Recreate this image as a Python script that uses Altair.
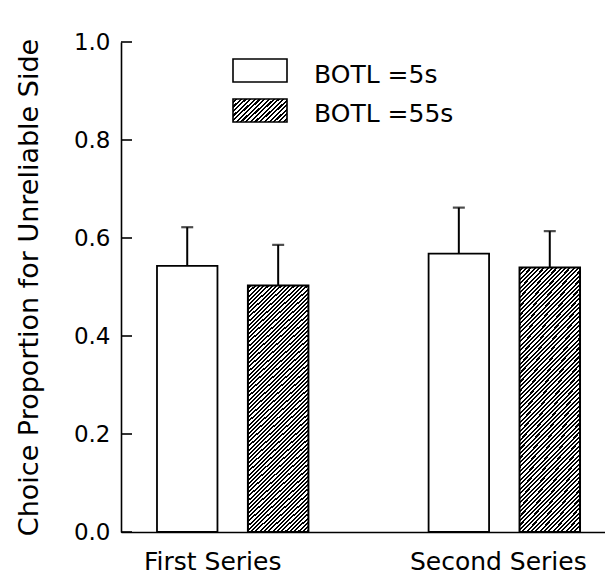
import altair as alt
import pandas as pd

# ---- data ----
categories = ["First Series", "Second Series"]
series = ["BOTL =5s", "BOTL =55s"]
means_5s = [0.543, 0.568]
means_55s = [0.503, 0.540]
errors_5s = [0.079, 0.094]
errors_55s = [0.083, 0.074]
y_ticks = [0.0, 0.2, 0.4, 0.6, 0.8, 1.0]

rows = []
for i, c in enumerate(categories):
    rows.append({"category": c, "series": series[0], "mean": means_5s[i], "err": errors_5s[i]})
    rows.append({"category": c, "series": series[1], "mean": means_55s[i], "err": errors_55s[i]})
df = pd.DataFrame(rows)

FONT = "DejaVu Sans"


def hatch(ax, ay, n, duty=0.52):
    """Diagonal hatch (///) emulated with a hard-stop linear gradient."""
    stops = []
    for k in range(n):
        a = round(k / n, 5)
        b = round((k + duty) / n, 5)
        c = round((k + 1) / n, 5)
        stops += [
            {"offset": a, "color": "white"},
            {"offset": b, "color": "white"},
            {"offset": b, "color": "black"},
            {"offset": c, "color": "black"},
        ]
    return {"gradient": "linear", "x1": 0, "y1": 0, "x2": ax, "y2": ay, "stops": stops}


bar_hatch = hatch(0.283, 1.2, 75)
legend_hatch = hatch(1.2375, 0.55, 17)

xscale = alt.Scale(domain=categories, range=[0, 495], paddingInner=0.4425, paddingOuter=0.1325)
yscale = alt.Scale(domain=[0, 1])

xaxis = alt.Axis(
    ticks=False, grid=False, domain=True, domainColor="black", domainWidth=1.6,
    labelFont=FONT, labelFontSize=25, labelColor="black", labelPadding=17,
    labelOffset=alt.ExprRef(expr="datum.value == 'First Series' ? -20 : -6"),
    labelAngle=0, title=None,
)
YTITLE = "Choice Proportion for Unreliable Side"
yaxis = alt.Axis(
    values=y_ticks, format=".1f", ticks=False, tickSize=0, grid=False, domain=True,
    domainColor="black", domainWidth=1.6,
    labelFont=FONT, labelFontSize=23, labelColor="black", labelPadding=11,
    title=YTITLE,
    titleFont=FONT, titleFontSize=27, titleFontWeight="normal", titleColor="black",
    titleAngle=-90, titleX=-84, titleY=245, titleAlign="center", titleBaseline="alphabetic",
)


def yenc(field):
    return alt.Y(field, scale=yscale, axis=yaxis, title=YTITLE)


base = alt.Chart(df).transform_calculate(upper="datum.mean + datum.err").encode(
    x=alt.X("category:N", scale=xscale, axis=xaxis, title=None),
    xOffset=alt.XOffset("series:N", scale=alt.Scale(domain=series, paddingInner=0.335, paddingOuter=0)),
)

bars_white = base.transform_filter(alt.datum.series == series[0]).mark_bar(
    fill="white", stroke="black", strokeWidth=1.8
).encode(y=yenc("mean:Q"))

bars_hatch = base.transform_filter(alt.datum.series == series[1]).mark_bar(
    fill=bar_hatch, stroke="black", strokeWidth=2
).encode(y=yenc("mean:Q"))

err_rule = base.mark_rule(color="black", strokeWidth=2).encode(
    y=yenc("mean:Q"), y2="upper:Q"
)
err_cap = base.mark_tick(color="black", size=12, thickness=2.2).encode(y=yenc("upper:Q"))

ytick_marks = alt.Chart(pd.DataFrame({"t": y_ticks})).mark_rule(
    color="black", strokeWidth=1.6
).encode(y=yenc("t:Q"), x=alt.value(0), x2=alt.value(11))

leg_df = pd.DataFrame({"label": series})
leg_white = alt.Chart(leg_df).transform_filter(alt.datum.label == series[0]).mark_rect(
    fill="white", stroke="black", strokeWidth=1.6
).encode(x=alt.value(112), x2=alt.value(166), y=alt.value(17), y2=alt.value(40))
leg_hatch = alt.Chart(leg_df).transform_filter(alt.datum.label == series[1]).mark_rect(
    fill=legend_hatch, stroke="black", strokeWidth=1.6
).encode(x=alt.value(112), x2=alt.value(166), y=alt.value(57), y2=alt.value(80))
leg_text1 = alt.Chart(leg_df).transform_filter(alt.datum.label == series[0]).mark_text(
    align="left", baseline="alphabetic", font=FONT, fontSize=25, color="black"
).encode(text="label:N", x=alt.value(193), y=alt.value(40.5))
leg_text2 = alt.Chart(leg_df).transform_filter(alt.datum.label == series[1]).mark_text(
    align="left", baseline="alphabetic", font=FONT, fontSize=25, color="black"
).encode(text="label:N", x=alt.value(193), y=alt.value(79.5))

chart = alt.layer(
    bars_white, bars_hatch, err_rule, err_cap, ytick_marks,
    leg_white, leg_hatch, leg_text1, leg_text2,
).properties(
    width=480, height=490,
    autosize=alt.AutoSizeParams(type="none"),
    padding={"left": 121, "top": 42, "right": 4, "bottom": 48},
    background="white",
).configure_view(stroke=None)

chart.save("out.html", embed_options={"renderer": "svg", "actions": False})
